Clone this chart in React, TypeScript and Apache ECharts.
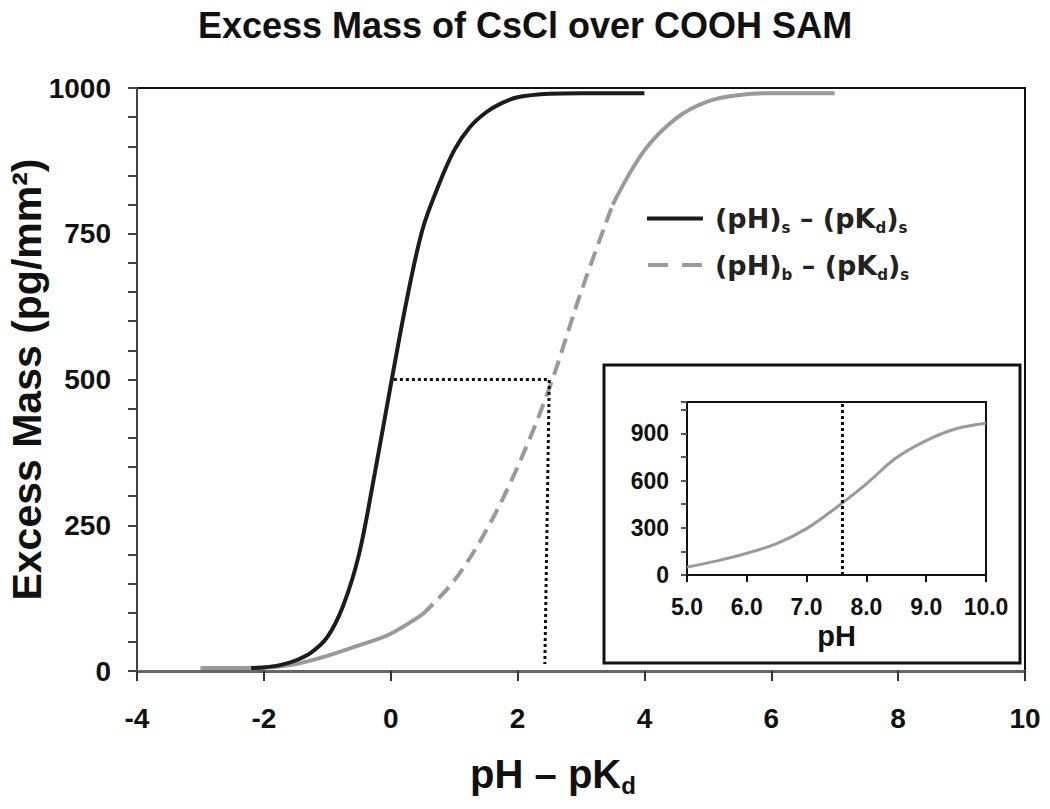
import React, { useEffect, useRef } from "react";
import * as echarts from "echarts";

// Main chart: (pH)s – (pKd)s  (solid black)
const blackPH = [-2.2, -2.0, -1.75, -1.5, -1.25, -1.0, -0.75, -0.5, -0.25, 0, 0.25, 0.5, 0.75, 1.0, 1.25, 1.5, 1.75, 2.0, 2.5, 3.0, 4.0];
const blackMass = [5, 6, 10, 18, 32, 58, 112, 200, 340, 490, 635, 757, 832, 893, 933, 958, 974, 984, 990, 991, 991];

// Main chart: (pH)b – (pKd)s  (gray, dashed in the middle range)
const grayPH = [-3.0, -2.0, -1.5, -1.0, -0.5, 0, 0.5, 1.0, 1.5, 2.0, 2.5, 3.0, 3.5, 4.0, 4.5, 5.0, 5.5, 6.0, 7.0];
const grayMass = [5, 6, 12, 26, 44, 64, 97, 155, 240, 350, 485, 650, 800, 893, 948, 977, 988, 991, 991];
const dashFrom = 0.5;
const dashTo = 3.5;

// Dotted guide in the main chart
const guidePH = [0.05, 2.5, 2.43];
const guideMass = [500, 500, 12];

// Inset: excess mass vs pH
const insetPH = [5.0, 5.5, 6.0, 6.5, 7.0, 7.5, 8.0, 8.5, 9.0, 9.5, 10.0];
const insetMass = [50, 90, 138, 200, 295, 430, 580, 745, 855, 930, 965];
const insetMarkPH = 7.6;

const xTicks = { min: -4, max: 10, interval: 2 };
const yTicks = { min: 0, max: 1000, interval: 250 };

const FONT = "Liberation Sans, Arial, sans-serif";
const LEG_FONT = "DejaVu Sans, Verdana, sans-serif";

function pairs(xs: number[], ys: number[]) {
  return xs.map((x, i) => [x, ys[i]]);
}

export default function App() {
  const ref = useRef<HTMLDivElement>(null);

  useEffect(() => {
    document.body.style.margin = "0";
    if (!ref.current) return;
    const chart = echarts.init(ref.current, null, { renderer: "svg" });

    const grayAll = pairs(grayPH, grayMass);
    const graySolid1 = grayAll.filter((p) => p[0] <= dashFrom);
    const grayDashed = grayAll.filter((p) => p[0] >= dashFrom && p[0] <= dashTo);
    const graySolid2 = grayAll.filter((p) => p[0] >= dashTo);

    const legendFmt = (name: string) =>
      name === "s"
        ? "{g|}{m|(pH)}{sub|s}{m| – (pK}{sub|d}{m|)}{sub|s}"
        : "{g|}{m|(pH)}{sub|b}{m| – (pK}{sub|d}{m|)}{sub|s}";

    const lineSeries = (name: string, data: number[][], color: string, width: number, type: any, z: number, xi = 0) => ({
      name,
      type: "line",
      xAxisIndex: xi,
      yAxisIndex: xi,
      data,
      smooth: 0.35,
      showSymbol: false,
      symbol: "none",
      lineStyle: { color, width, type },
      itemStyle: { color },
      z,
    });

    const option: any = {
      animation: false,
      backgroundColor: "#ffffff",
      title: {
        text: "Excess Mass of CsCl over COOH SAM",
        left: "center",
        top: 2,
        textStyle: { fontFamily: FONT, fontSize: 36, fontWeight: "bold", color: "#111" },
      },
      legend: {
        data: [
          { name: "s", icon: "path://M0 0H56V4H0Z", itemStyle: { color: "#1c1c1c" } },
          { name: "b", icon: "path://M0 0H20V4H0Z M34 0H54V4H34Z", itemStyle: { color: "#9a9a9a" } },
        ],
        orient: "vertical",
        left: 642,
        top: 200,
        itemWidth: 56,
        itemHeight: 4,
        itemGap: 16,
        formatter: legendFmt,
        textStyle: {
          rich: {
            g: { width: 7 },
            m: { fontFamily: LEG_FONT, fontSize: 27, fontWeight: "bold", color: "#222", lineHeight: 34 },
            sub: { fontFamily: LEG_FONT, fontSize: 15, fontWeight: "bold", color: "#222", lineHeight: 15, verticalAlign: "bottom" },
          },
        },
      },
      grid: [
        { left: 137, top: 88, width: 888, height: 583, show: true, borderColor: "#111", borderWidth: 2, backgroundColor: "transparent", outerBoundsMode: "none" },
        { left: 687, top: 402, width: 299, height: 173, show: true, borderColor: "#111", borderWidth: 2, backgroundColor: "transparent", outerBoundsMode: "none" },
      ],
      xAxis: [
        {
          gridIndex: 0,
          type: "value",
          min: xTicks.min,
          max: xTicks.max,
          interval: xTicks.interval,
          splitLine: { show: false },
          axisLine: { show: true, onZero: false, lineStyle: { color: "#666", width: 3 } },
          axisTick: { show: true, inside: false, length: 10, lineStyle: { color: "#333", width: 2 } },
          axisLabel: { fontFamily: FONT, fontSize: 28, fontWeight: "bold", color: "#111", margin: 33, formatter: (v: number) => String(v) },
          name: "{n|pH – pK}{sub|d}",
          nameLocation: "middle",
          nameGap: 80,
          nameTextStyle: {
            padding: [0, 56, 0, 0],
            rich: {
              n: { fontFamily: FONT, fontSize: 40, fontWeight: "bold", color: "#111", lineHeight: 46 },
              sub: { fontFamily: FONT, fontSize: 24, fontWeight: "bold", color: "#111", lineHeight: 22, verticalAlign: "bottom" },
            },
          },
        },
        {
          gridIndex: 1,
          type: "value",
          min: 5,
          max: 10,
          interval: 1,
          splitLine: { show: false },
          axisLine: { show: true, onZero: false, lineStyle: { color: "#111", width: 2 } },
          axisTick: { show: true, inside: false, length: 7, lineStyle: { color: "#111", width: 2 } },
          axisLabel: { fontFamily: FONT, fontSize: 23, fontWeight: "bold", color: "#111", margin: 20, formatter: (v: number) => v.toFixed(1) },
          name: "pH",
          nameLocation: "middle",
          nameGap: 46,
          nameTextStyle: { fontFamily: FONT, fontSize: 29, fontWeight: "bold", color: "#111" },
        },
      ],
      yAxis: [
        {
          gridIndex: 0,
          type: "value",
          min: yTicks.min,
          max: yTicks.max,
          interval: yTicks.interval,
          splitLine: { show: false },
          axisLine: { show: true, onZero: false, lineStyle: { color: "#444", width: 2 } },
          axisTick: { show: true, inside: false, length: 9, lineStyle: { color: "#444", width: 2 } },
          minorTick: { show: true, splitNumber: 5, length: 9, lineStyle: { color: "#444", width: 2 } },
          axisLabel: { fontFamily: FONT, fontSize: 28, fontWeight: "bold", color: "#111", margin: 26, formatter: (v: number) => String(v) },
          name: "Excess Mass (pg/mm²)",
          nameLocation: "middle",
          nameMoveOverlap: false,
          nameGap: 88,
          nameTextStyle: { fontFamily: FONT, fontSize: 41, fontWeight: "bold", color: "#111", lineHeight: 44 },
        },
        {
          gridIndex: 1,
          type: "value",
          min: 0,
          max: 1100,
          interval: 150,
          splitLine: { show: false },
          axisLine: { show: true, onZero: false, lineStyle: { color: "#111", width: 2 } },
          axisTick: { show: true, inside: false, length: 6, lineStyle: { color: "#555", width: 2 } },
          axisLabel: {
            fontFamily: FONT,
            fontSize: 23,
            fontWeight: "bold",
            color: "#111",
            margin: 18,
            formatter: (v: number) => (v % 300 === 0 ? String(v) : ""),
          },
        },
      ],
      graphic: [
        {
          type: "rect",
          z: 1,
          shape: { x: 604, y: 365, width: 416, height: 298 },
          style: { fill: "none", stroke: "#111", lineWidth: 3 },
        },
      ],
      series: [
        lineSeries("s", pairs(blackPH, blackMass), "#1c1c1c", 4, "solid", 4),
        lineSeries("b", grayDashed, "#9a9a9a", 4, [15, 8], 3),
        lineSeries("b-low", graySolid1, "#9a9a9a", 4, "solid", 3),
        lineSeries("b-high", graySolid2, "#9a9a9a", 4, "solid", 3),
        {
          name: "guide",
          type: "line",
          xAxisIndex: 0,
          yAxisIndex: 0,
          data: pairs(guidePH, guideMass),
          showSymbol: false,
          symbol: "none",
          lineStyle: { color: "#111", width: 3, type: [3, 3] },
          z: 5,
        },
        {
          ...lineSeries("inset", pairs(insetPH, insetMass), "#9a9a9a", 3, "solid", 3, 1),
          markLine: {
            silent: true,
            symbol: ["none", "none"],
            label: { show: false },
            lineStyle: { color: "#111", width: 3, type: [3, 3] },
            data: [{ xAxis: insetMarkPH }],
          },
        },
      ],
    };

    chart.setOption(option);
    return () => chart.dispose();
  }, []);

  return <div ref={ref} style={{ width: 1050, height: 809 }} />;
}
